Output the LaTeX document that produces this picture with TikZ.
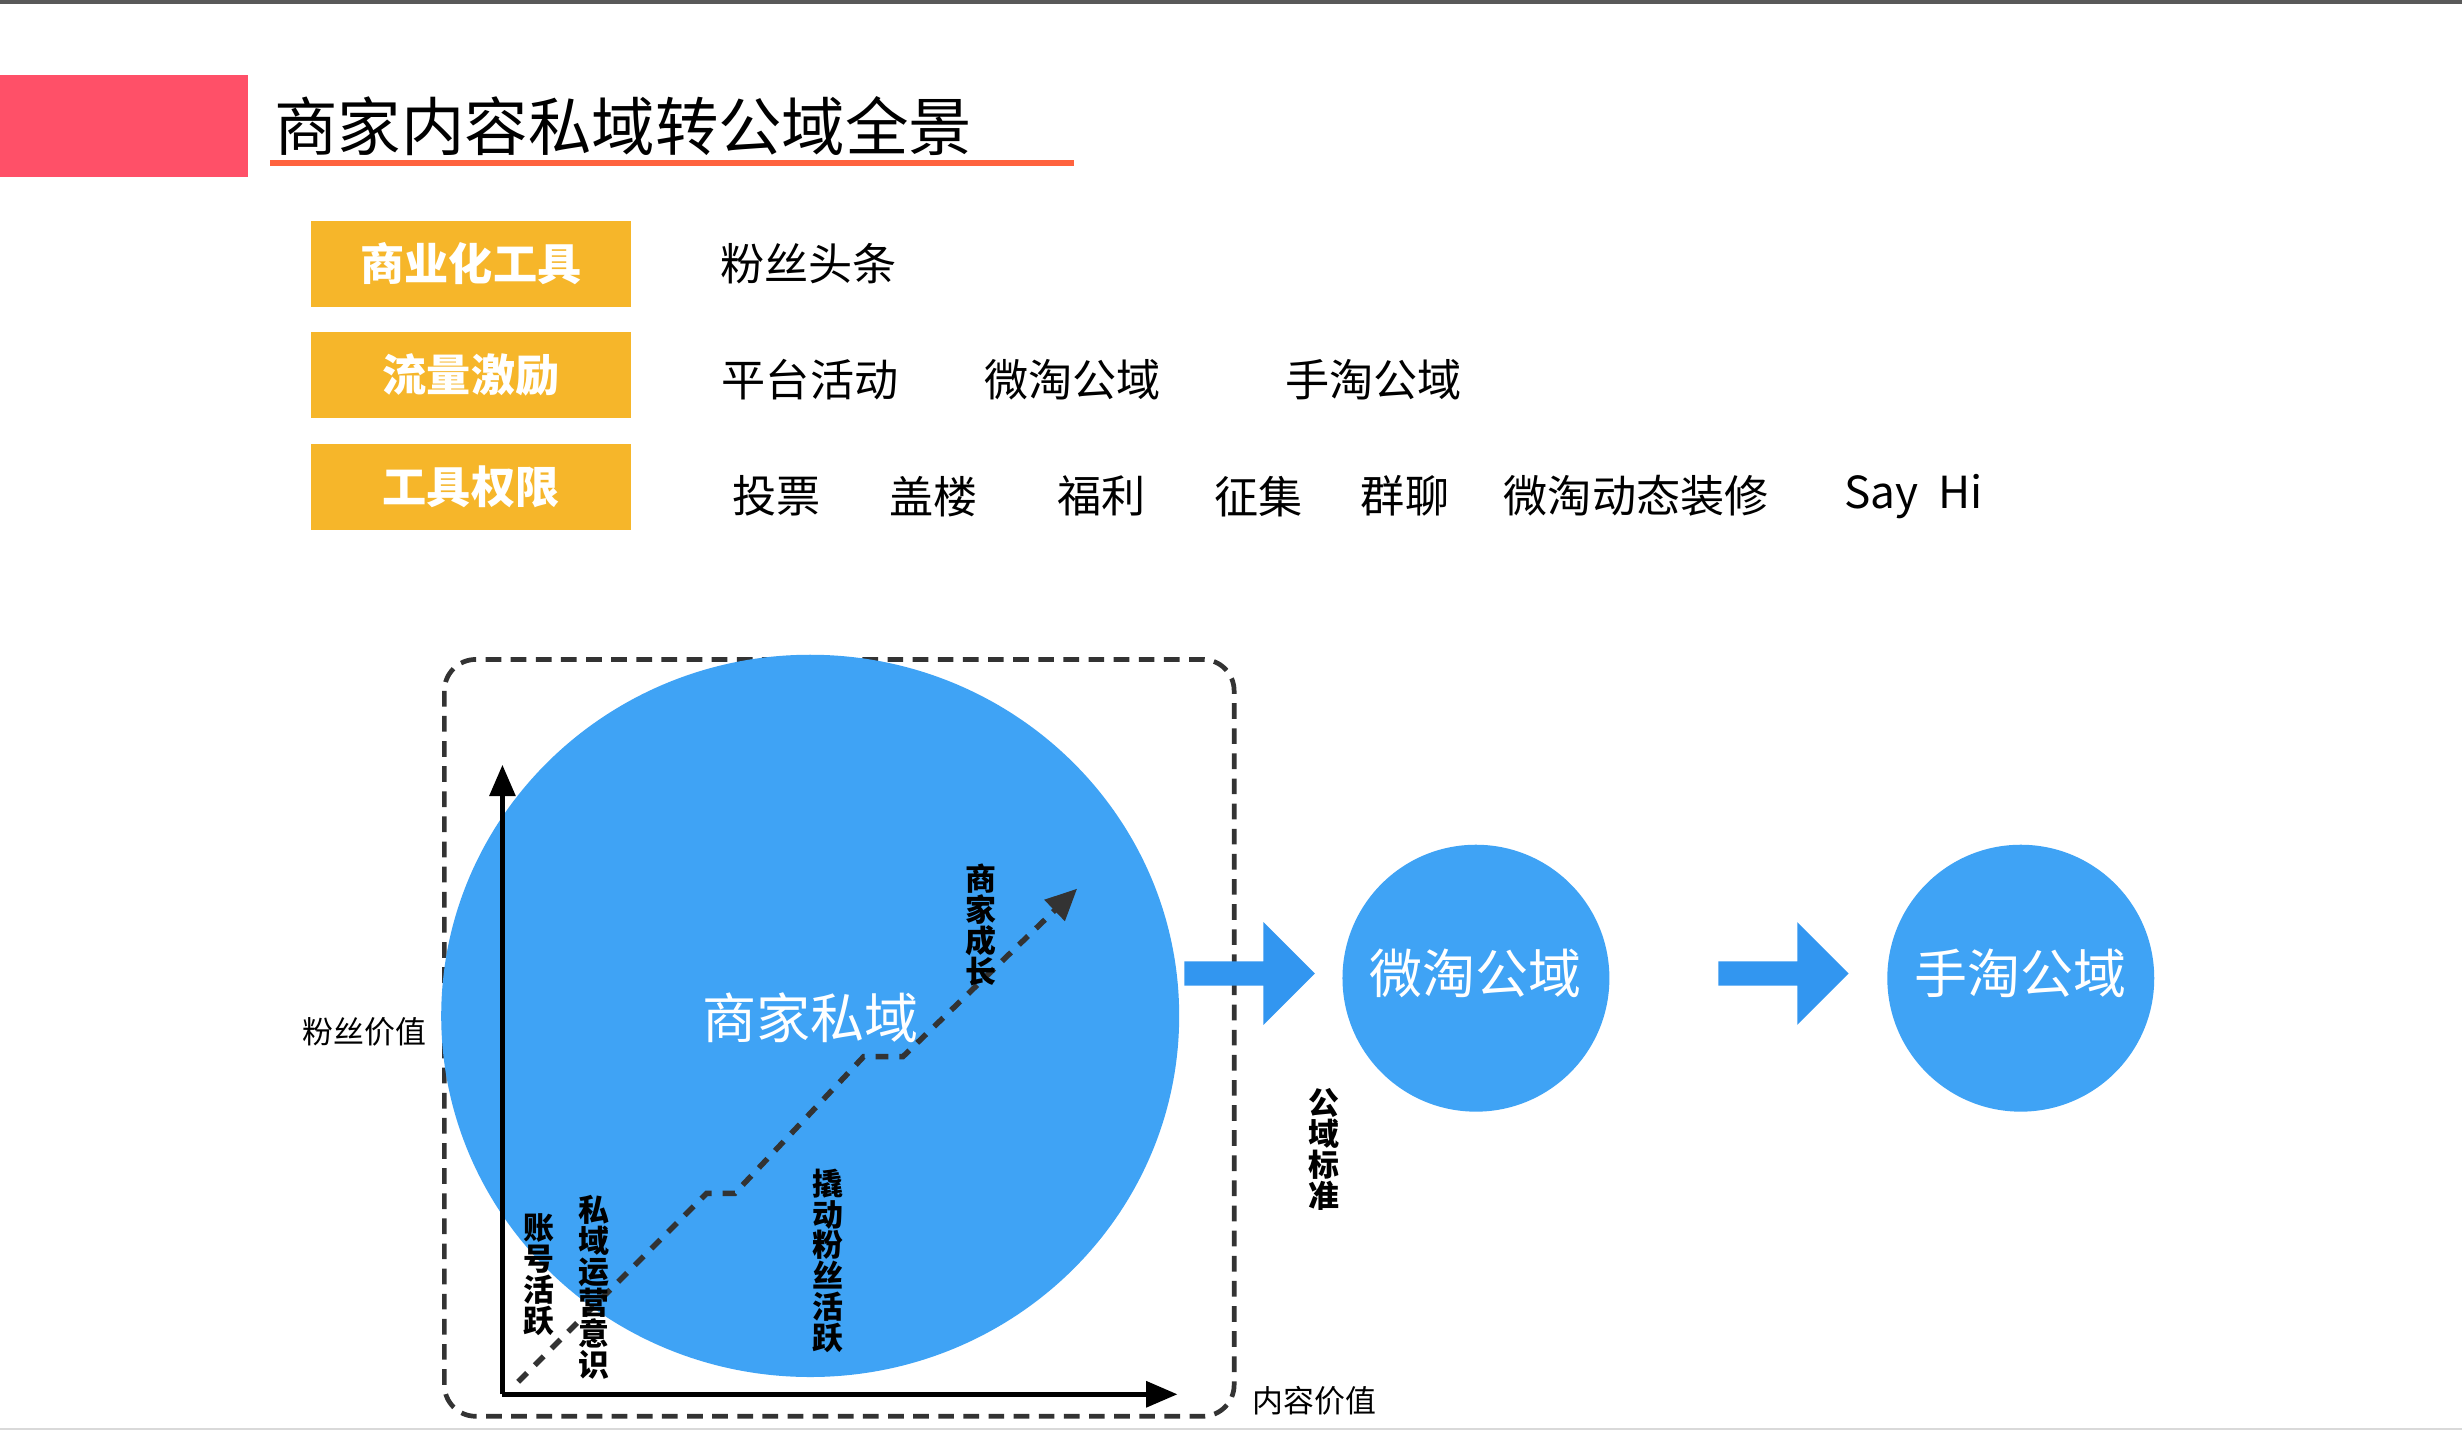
\documentclass[tikz,border=0pt]{standalone}
\usepackage{fontspec}
\setmainfont{Noto Sans CJK SC}
\usetikzlibrary{arrows.meta,shapes.arrows}
\definecolor{pinkc}{HTML}{FF5068}
\definecolor{orangec}{HTML}{F6B62A}
\definecolor{bluec}{HTML}{3FA3F5}
\definecolor{arrowc}{HTML}{3296F0}
\newcommand{\fs}[1]{\fontsize{#1}{#1}\selectfont}
\tikzset{
 tag/.style={fill=orangec,minimum width=20.4mm,minimum height=5.5mm,inner sep=0,text=white,font=\fs{8pt}\bfseries},
 item/.style={anchor=west,inner sep=0,font=\fs{8pt}},
 vlab/.style={align=center,inner sep=0,font=\fs{5.6pt}\bfseries,text width=2.5mm},
 small/.style={inner sep=0,font=\fs{5.6pt}},
 wtext/.style={text=white,font=\fs{9.6pt}},
 blk/.style={single arrow,fill=arrowc,minimum height=8.3mm,single arrow head extend=2.5mm,minimum width=1.4mm,inner sep=0.7mm,single arrow tip angle=90,draw=none}
}
\begin{document}
\begin{tikzpicture}[x=0.1mm,y=-0.1mm]
\useasboundingbox (0,0) rectangle (1568,912);
\fill[white] (0,0) rectangle (1568,912);
\draw[gray!70!black,line width=0.25mm] (0,1) -- (1568,1);
\draw[gray!30,line width=0.15mm] (0,910) -- (1568,910);
\fill[pinkc] (0,48) rectangle (158,113);
\node[anchor=west,inner sep=0,font=\fs{11.5pt}] (title) at (174,80) {商家内容私域转公域全景};
\draw[pinkc!60!orange,line width=0.4mm] (172,104) -- (684,104);
\node[tag] (t1) at (300,168) {商业化工具};
\node[tag] (t2) at (300,239) {流量激励};
\node[tag] (t3) at (300,310) {工具权限};
\node[item] (a1) at (458,168) {粉丝头条};
\node[item] (b1) at (459,242) {平台活动};
\node[item] (b2) at (626,242) {微淘公域};
\node[item] (b3) at (818,242) {手淘公域};
\node[item] (c1) at (466,316) {投票};
\node[item] (c2) at (566,316) {盖楼};
\node[item] (c3) at (673,316) {福利};
\node[item] (c4) at (773,316) {征集};
\node[item] (c5) at (866,316) {群聊};
\node[item] (c6) at (957,316) {微淘动态装修};
\node[item] (c7) at (1174,316) {Say\ \ Hi};
\draw[dashed,gray!40!black,line width=0.3mm,rounded corners=2mm,dash pattern=on 1mm off 0.6mm] (283,420) rectangle (786,902);
\fill[bluec] (516,647) ellipse [x radius=235,y radius=230];
\node[wtext,font=\fs{9.8pt}] (priv) at (516,648) {商家私域};
\coordinate (o) at (320,888);
\coordinate (ytop) at (320,487);
\coordinate (xend) at (750,888);
\draw[line width=0.35mm,-{Triangle[length=2mm,width=1.6mm]}] (o) -- (ytop);
\draw[line width=0.35mm,-{Triangle[length=2mm,width=1.6mm]}] (o) -- (xend);
\coordinate (p0) at (330,880);
\coordinate (p5) at (686,566);
\draw[gray!40!black,line width=0.35mm,dash pattern=on 0.8mm off 0.7mm,-{Triangle[length=2mm,width=1.8mm]}] (p0) -- (450,760) -- (468,760) -- (550,673) -- (575,673) -- (p5);
\node[vlab] (l1) at (343,812) {账\\号\\活\\跃};
\node[vlab] (l2) at (378,820) {私\\域\\运\\营\\意\\识};
\node[vlab] (l3) at (527,803) {撬\\动\\粉\\丝\\活\\跃};
\node[vlab] (l4) at (625,589) {商\\家\\成\\长};
\node[vlab] (l5) at (843,732) {公\\域\\标\\准};
\node[small] (fy) at (232,657) {粉丝价值};
\node[small] (fx) at (837,892) {内容价值};
\node[blk] (ar1) at (792,620) {};
\node[blk] (ar2) at (1132,620) {};
\fill[bluec] (940,623) circle (85);
\node[wtext] (w1) at (940,620) {微淘公域};
\fill[bluec] (1287,623) circle (85);
\node[wtext] (w2) at (1287,620) {手淘公域};
\end{tikzpicture}
\end{document}
